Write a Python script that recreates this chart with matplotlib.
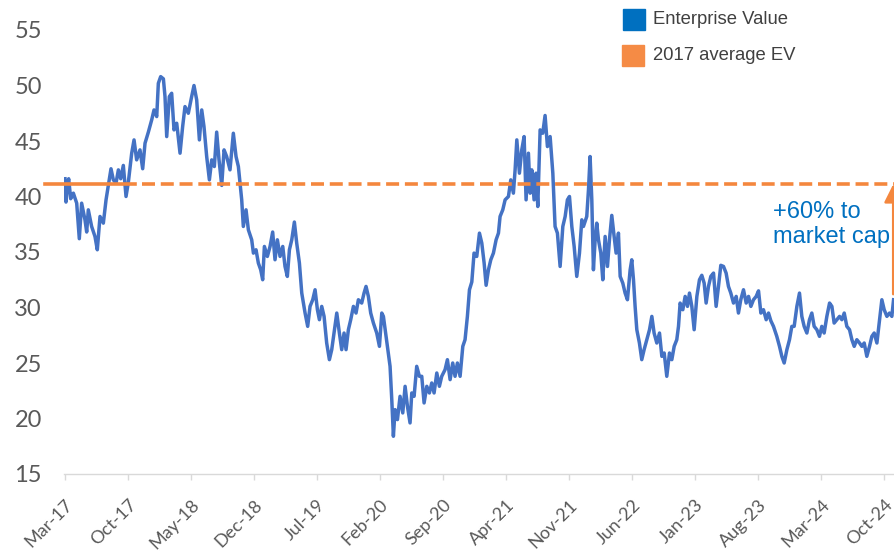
import matplotlib
matplotlib.use("Agg")
import matplotlib.pyplot as plt
import matplotlib.transforms as mtransforms
from matplotlib.patches import Rectangle

# months since Mar-17
months = [
    0.00, 0.11, 0.26, 0.41, 0.63, 0.93, 1.30, 1.59, 1.85, 2.22, 2.41, 2.59, 2.96, 3.33, 3.59, 3.89,
    4.26, 4.56, 4.81, 5.11, 5.37, 5.67, 5.93, 6.19, 6.48, 6.78, 7.04, 7.41, 7.67, 7.96, 8.33, 8.63,
    8.89, 9.26, 9.63, 9.89, 10.19, 10.37, 10.63, 10.93, 11.11, 11.30, 11.59, 11.85, 12.11, 12.41,
    12.78, 13.07, 13.33, 13.70, 14.07, 14.33, 14.63, 14.93, 15.19, 15.44, 15.74, 16.04, 16.30,
    16.59, 16.85, 17.11, 17.41, 17.67, 17.96, 18.33, 18.70, 19.00, 19.26, 19.44, 19.63, 19.81,
    20.11, 20.37, 20.74, 20.93, 21.22, 21.48, 21.74, 21.96, 22.15, 22.48, 22.78, 23.07, 23.33,
    23.59, 23.89, 24.19, 24.44, 24.70, 24.93, 25.19, 25.48, 25.74, 26.04, 26.30, 26.67, 26.96,
    27.22, 27.52, 27.78, 28.04, 28.26, 28.52, 28.78, 29.07, 29.37, 29.63, 29.89, 30.19, 30.48,
    30.74, 31.00, 31.22, 31.48, 31.74, 32.04, 32.33, 32.59, 32.96, 33.22, 33.44, 33.70, 33.96,
    34.26, 34.63, 34.93, 35.19, 35.37, 35.67, 35.93, 36.11, 36.30, 36.48, 36.67, 36.93, 37.22,
    37.52, 37.78, 38.04, 38.33, 38.52, 38.78, 39.07, 39.37, 39.63, 39.89, 40.19, 40.48, 40.74,
    41.00, 41.30, 41.59, 41.85, 42.22, 42.48, 42.78, 43.07, 43.33, 43.59, 43.89, 44.19, 44.44,
    44.70, 44.93, 45.19, 45.44, 45.74, 46.04, 46.30, 46.56, 46.78, 47.04, 47.30, 47.59, 47.89,
    48.15, 48.33, 48.63, 48.89, 49.26, 49.52, 49.81, 50.00, 50.19, 50.48, 50.74, 51.00, 51.22,
    51.48, 51.67, 51.85, 52.11, 52.33, 52.52, 52.78, 53.07, 53.33, 53.59, 53.89, 54.19, 54.44,
    54.70, 55.00, 55.30, 55.56, 55.81, 56.04, 56.30, 56.56, 56.85, 57.15, 57.41, 57.59, 57.96,
    58.15, 58.33, 58.52, 58.70, 58.89, 59.07, 59.26, 59.52, 59.74, 60.00, 60.26, 60.48, 60.74,
    61.00, 61.22, 61.48, 61.67, 61.96, 62.22, 62.48, 62.78, 62.96, 63.15, 63.33, 63.52, 63.81,
    64.07, 64.33, 64.63, 64.93, 65.19, 65.44, 65.74, 66.04, 66.30, 66.56, 66.85, 67.15, 67.41,
    67.67, 67.96, 68.15, 68.33, 68.63, 68.89, 69.15, 69.37, 69.63, 69.89, 70.19, 70.48, 70.74,
    71.00, 71.22, 71.48, 71.74, 72.04, 72.33, 72.59, 72.85, 73.15, 73.44, 73.70, 73.96, 74.26,
    74.56, 74.81, 75.07, 75.37, 75.67, 75.93, 76.19, 76.48, 76.78, 77.04, 77.30, 77.59, 77.89,
    78.15, 78.41, 78.70, 79.07, 79.37, 79.63, 79.89, 80.19, 80.48, 80.74, 81.00, 81.30, 81.59,
    81.85, 82.11, 82.41, 82.70, 82.96, 83.22, 83.52, 83.81, 84.07, 84.33, 84.63, 84.93, 85.19,
    85.44, 85.74, 86.04, 86.30, 86.56, 86.85, 87.15, 87.41, 87.67, 87.96, 88.26, 88.52, 88.78,
    89.07, 89.37, 89.63, 89.89, 90.19, 90.48, 90.74, 91.00, 91.30, 91.59, 91.85, 92.04,
]

enterprise_value = [
    41.6, 39.5, 41.0, 41.6, 39.8, 40.3, 39.4, 36.2, 39.4, 37.9, 36.8, 38.8, 37.3, 36.4, 35.2, 38.2,
    37.6, 39.7, 41.0, 42.5, 41.5, 41.2, 42.4, 41.6, 42.8, 40.0, 41.3, 43.9, 45.1, 43.3, 44.2, 42.5,
    44.8, 45.8, 46.9, 47.8, 47.2, 50.2, 50.8, 50.6, 49.0, 45.4, 49.0, 49.3, 46.0, 46.6,
    43.9, 46.3, 48.1, 47.5, 49.0, 50.0, 48.7, 45.1, 47.8, 46.3, 43.6, 41.5, 43.3,
    42.7, 45.8, 43.3, 41.0, 44.2, 43.6, 42.4, 45.7, 43.6, 42.7, 41.2, 39.7, 37.3,
    38.8, 37.0, 36.1, 34.9, 35.2, 34.0, 33.4, 32.5, 35.5, 34.6, 35.5, 36.8, 34.3,
    36.1, 34.6, 35.5, 33.7, 32.8, 35.2, 36.1, 37.7, 35.8, 34.0, 31.3, 29.5, 28.3,
    30.1, 30.7, 31.6, 29.8, 28.9, 30.1, 29.2, 26.8, 25.3, 26.2, 27.7, 29.5, 27.7,
    26.2, 27.7, 26.2, 28.0, 28.9, 30.1, 29.5, 30.7, 30.4, 31.3, 31.9, 31.0, 29.5,
    28.6, 27.7, 26.5, 29.5, 29.2, 27.4, 25.9, 24.7, 21.7, 18.4, 20.8, 19.9, 22.0,
    20.5, 22.9, 21.1, 19.6, 22.3, 22.0, 24.7, 23.8, 23.8, 21.4, 22.9, 22.3, 23.2,
    22.3, 24.1, 22.9, 23.8, 24.4, 25.3, 23.5, 25.0, 23.8, 25.0, 23.8, 26.5, 27.1,
    29.2, 31.6, 32.3, 34.9, 34.6, 36.7, 35.8, 34.0, 32.0, 33.4, 34.3, 34.9, 36.1,
    36.7, 38.2, 38.8, 39.7, 40.0, 41.5, 40.3, 42.4, 45.1, 42.1, 44.2, 45.4, 39.7,
    43.9, 40.3, 42.4, 39.7, 42.1, 39.1, 46.0, 45.7, 47.3, 44.5, 45.4, 42.1, 37.3,
    36.7, 33.7, 37.3, 38.2, 39.7, 40.0, 37.3, 35.5, 32.8, 34.9, 37.9, 37.3, 38.2,
    40.6, 43.6, 39.7, 33.4, 36.1, 37.6, 36.1, 34.9, 32.5, 36.4, 33.7, 36.1, 38.3,
    36.4, 34.9, 36.7, 32.8, 32.2, 31.3, 30.7, 33.4, 34.3, 32.5, 30.1, 28.0, 26.8,
    25.3, 26.2, 27.1, 28.0, 29.2, 27.7, 26.8, 27.7, 25.6, 25.9, 23.8, 25.9, 25.3,
    26.5, 27.1, 28.3, 30.4, 29.8, 31.0, 30.1, 31.3, 30.1, 28.0, 31.0, 32.5, 32.9,
    32.2, 30.4, 31.9, 32.8, 33.1, 30.1, 31.9, 33.8, 33.7, 33.1, 31.9, 31.3, 30.4,
    31.0, 29.5, 30.7, 31.6, 30.4, 31.0, 30.1, 30.7, 31.0, 31.5, 29.5, 29.8, 28.9,
    29.5, 28.8, 28.3, 27.4, 26.5, 25.6, 25.0, 26.2, 27.1, 28.3, 28.3, 30.1, 31.3,
    29.2, 28.3, 27.7, 28.9, 29.5, 28.3, 28.0, 27.4, 28.3, 27.7, 29.2, 30.4, 30.1,
    28.6, 28.9, 29.2, 28.9, 29.5, 28.3, 28.0, 27.1, 26.5, 27.1, 26.8, 26.5, 26.8,
    25.6, 26.5, 27.4, 27.7, 26.8, 28.9, 30.7, 29.8, 29.2, 29.5, 29.2, 30.7,
]

avg_2017_ev = 41.1
avg_solid_span = (-2.2, 7.8)     # 2017 part drawn solid
avg_dashed_span = (8.5, 92.2)    # extension drawn dashed

tick_months = list(range(0, 92, 7))
tick_labels = ["Mar-17", "Oct-17", "May-18", "Dec-18", "Jul-19", "Feb-20", "Sep-20",
               "Apr-21", "Nov-21", "Jun-22", "Jan-23", "Aug-23", "Mar-24", "Oct-24"]
y_ticks = [15, 20, 25, 30, 35, 40, 45, 50, 55]

arrow_month = 92.0
arrow_from = 31.2
note = "+60% to\nmarket cap"

BLUE = "#4472C4"
ORANGE = "#F4873E"
GREY = "#595959"

fig = plt.figure(figsize=(8.95, 5.54), dpi=100)
ax = fig.add_axes([64 / 895, 80 / 554, 831 / 895, 444 / 554])

ax.plot(months, enterprise_value, color=BLUE, lw=2.5, solid_joinstyle="round", zorder=3)
ax.plot(avg_solid_span, [avg_2017_ev] * 2, color=ORANGE, lw=2.6, clip_on=False, zorder=4)
ax.plot(avg_dashed_span, [avg_2017_ev] * 2, color=ORANGE, lw=2.6, dashes=(3.6, 1.6), zorder=4)

ax.annotate("", xy=(arrow_month, avg_2017_ev), xytext=(arrow_month, arrow_from),
            arrowprops=dict(arrowstyle="-|>,head_length=1.1,head_width=0.55", color=ORANGE,
                            lw=1.8, shrinkA=0, shrinkB=0, mutation_scale=10),
            annotation_clip=False, zorder=5)
ax.text(78.6, 37.5, note, color="#0070C0", fontsize=17, family="Liberation Sans",
        ha="left", va="center", linespacing=1.15)

ax.set_xlim(-0.11, 92.2)
ax.set_ylim(15, 55)
ax.set_yticks(y_ticks)
ax.set_yticklabels([str(v) for v in y_ticks], fontsize=17, color=GREY, family="Lato")
ax.set_xticks(tick_months)
ax.set_xticklabels(tick_labels, fontsize=13, color=GREY, family="Lato",
                   rotation=45, ha="right", va="top", rotation_mode="anchor")
shift = mtransforms.ScaledTranslation(3 / 100, 0, fig.dpi_scale_trans)
for lab in ax.get_xticklabels():
    lab.set_transform(lab.get_transform() + shift)

ax.tick_params(axis="y", length=0, pad=16)
ax.tick_params(axis="x", length=4.3, width=1, color="#D9D9D9", pad=12)
for side in ["left", "right", "top"]:
    ax.spines[side].set_visible(False)
ax.spines["bottom"].set_color("#D9D9D9")
ax.spines["bottom"].set_linewidth(1)

# legend drawn by hand, squares + labels
W, H = 895, 554
fig.patches.append(Rectangle((623 / W, 1 - 30 / H), 22 / W, 21 / H, color="#0070C0",
                             transform=fig.transFigure, figure=fig))
fig.patches.append(Rectangle((622 / W, 1 - 66 / H), 22 / W, 21 / H, color="#F58B45",
                             transform=fig.transFigure, figure=fig))
fig.text(653 / W, 1 - 20 / H, "Enterprise Value", fontsize=13.3, color="#404040",
         family="Liberation Sans", va="center", ha="left")
fig.text(653 / W, 1 - 56 / H, "2017 average EV", fontsize=13.3, color="#404040",
         family="Liberation Sans", va="center", ha="left")

fig.savefig("out.png", dpi=100)
